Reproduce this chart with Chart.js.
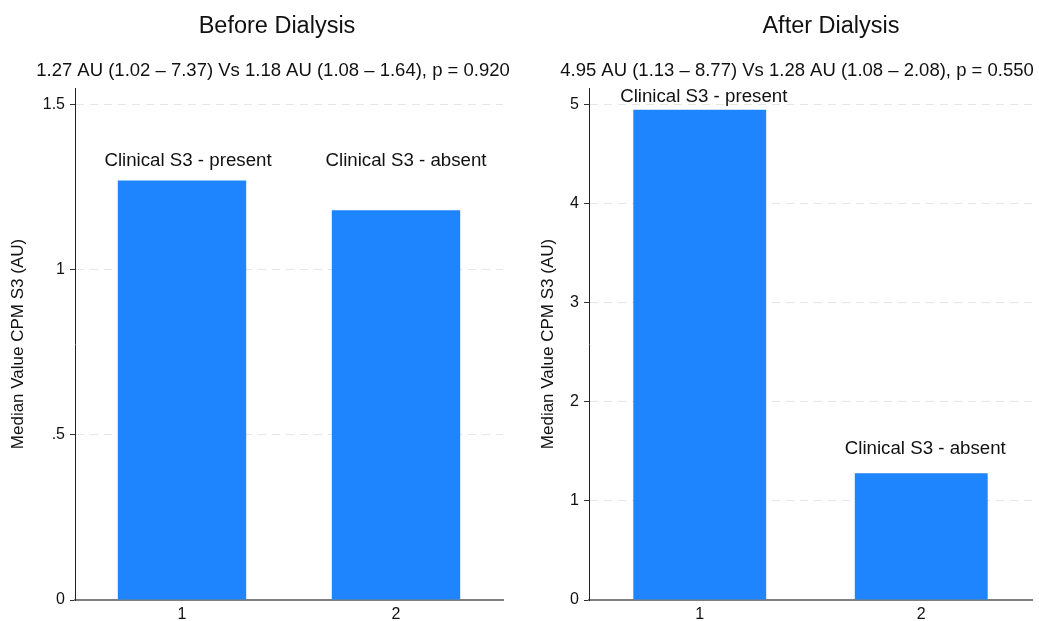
<!DOCTYPE html>
<html>
<head>
<meta charset="utf-8">
<title>CPM S3 before and after dialysis</title>
<script src="https://cdn.jsdelivr.net/npm/chart.js@4.4.1/dist/chart.umd.min.js"></script>
<style>
  body { margin: 0; background: #fff; }
  #wrap { position: relative; width: 1039px; height: 621px; }
  #wrap canvas { position: absolute; top: 0; }
  #before { left: 0; }
  #after { left: 520px; }
</style>
</head>
<body>
<div id="wrap">
  <canvas id="before" width="520" height="621"></canvas>
  <canvas id="after" width="519" height="621"></canvas>
</div>
<script>
// groups on the x axis
const categories = ['1', '2'];
const groupNames = ['Clinical S3 - present', 'Clinical S3 - absent'];

// median CPM S3 per group (AU)
const beforeMedians = [1.27, 1.18];
const afterMedians = [4.95, 1.28];

// height (in AU) where each group name sits
const beforeNameAt = [1.33, 1.33];
const afterNameAt = [5.08, 1.53];

// y axis ticks and ranges
const beforeTicks = [0, 0.5, 1, 1.5];
const afterTicks = [0, 1, 2, 3, 4, 5];
const beforeMax = 1.55;
const afterMax = 5.17;

const beforeSummary = '1.27 AU (1.02 \u2013 7.37) Vs 1.18 AU (1.08 \u2013 1.64), p = 0.920';
const afterSummary = '4.95 AU (1.13 \u2013 8.77) Vs 1.28 AU (1.08 \u2013 2.08), p = 0.550';

const FONT = "'Liberation Sans', Arial, Helvetica, sans-serif";
const BAR_BLUE = '#1e85ff';

Chart.defaults.font.family = FONT;
Chart.defaults.color = '#111';

// title + summary line above the plot
const headings = {
  id: 'headings',
  afterDraw(chart, args, opts) {
    const ctx = chart.ctx;
    ctx.save();
    ctx.fillStyle = '#111';
    ctx.textAlign = 'center';
    ctx.textBaseline = 'middle';
    ctx.font = `23.5px ${FONT}`;
    ctx.fillText(opts.title, opts.titleX, 27);
    ctx.font = `18.5px ${FONT}`;
    ctx.fillText(opts.subtitle, opts.subtitleX, 71);
    ctx.restore();
  }
};

// group names written above the bars
const groupNameLabels = {
  id: 'groupNameLabels',
  afterDatasetsDraw(chart, args, opts) {
    const ctx = chart.ctx;
    const yScale = chart.scales.y;
    const bars = chart.getDatasetMeta(0).data;
    ctx.save();
    ctx.fillStyle = '#111';
    ctx.font = `18.7px ${FONT}`;
    ctx.textAlign = 'center';
    ctx.textBaseline = 'middle';
    bars.forEach((bar, i) => {
      ctx.fillText(opts.names[i], bar.x + (opts.nudge[i] || 0), yScale.getPixelForValue(opts.at[i]));
    });
    ctx.restore();
  }
};

function fmtTick(v) {
  return String(v).replace(/^0\./, '.');
}

function makePanel(canvasId, values, nameAt, ticks, yMax, cfg) {
  const ctx = document.getElementById(canvasId).getContext('2d');
  return new Chart(ctx, {
    type: 'bar',
    data: {
      labels: categories,
      datasets: [{
        data: values,
        backgroundColor: BAR_BLUE,
        borderWidth: 0,
        categoryPercentage: 1,
        barPercentage: 0.6
      }]
    },
    options: {
      responsive: false,
      animation: false,
      layout: { padding: { top: 88, right: cfg.padRight, left: 0, bottom: 0 } },
      plugins: {
        legend: { display: false },
        tooltip: { enabled: false },
        headings: {
          title: cfg.title,
          subtitle: cfg.subtitle,
          titleX: cfg.titleX,
          subtitleX: cfg.subtitleX
        },
        groupNameLabels: { names: groupNames, at: nameAt, nudge: cfg.nudge }
      },
      scales: {
        x: {
          grid: { display: false, drawTicks: false },
          border: { display: true, color: '#7f7f7f', width: 2 },
          ticks: { padding: 5, color: '#111', font: { size: 16 } },
          afterFit(scale) { scale.height = 21; }
        },
        y: {
          min: 0,
          max: yMax,
          afterBuildTicks(scale) {
            scale.ticks = ticks.map(v => ({ value: v }));
          },
          grid: {
            color: c => (c.tick && c.tick.value === 0 ? 'rgba(0,0,0,0)' : '#e6e6e6'),
            lineWidth: 1,
            tickColor: '#333',
            tickLength: 5,
            tickWidth: 1
          },
          border: { display: true, color: '#222', width: 1, dash: [8, 6] },
          ticks: {
            padding: 5,
            color: '#111',
            font: { size: 16 },
            callback: v => fmtTick(v)
          },
          title: {
            display: true,
            text: 'Median Value CPM S3 (AU)',
            color: '#111',
            font: { size: 17 },
            padding: { top: cfg.axisTitlePad, bottom: 0 }
          },
          afterFit(scale) { scale.width = cfg.axisWidth; }
        }
      }
    },
    plugins: [headings, groupNameLabels]
  });
}

makePanel('before', beforeMedians, beforeNameAt, beforeTicks, beforeMax, {
  title: 'Before Dialysis',
  subtitle: beforeSummary,
  titleX: 277,
  subtitleX: 273,
  padRight: 17,
  axisWidth: 75,
  axisTitlePad: 8,
  nudge: [6, 10]
});

makePanel('after', afterMedians, afterNameAt, afterTicks, afterMax, {
  title: 'After Dialysis',
  subtitle: afterSummary,
  titleX: 311,
  subtitleX: 277,
  padRight: 7,
  axisWidth: 69,
  axisTitlePad: 18,
  nudge: [4, 4]
});
</script>
</body>
</html>
